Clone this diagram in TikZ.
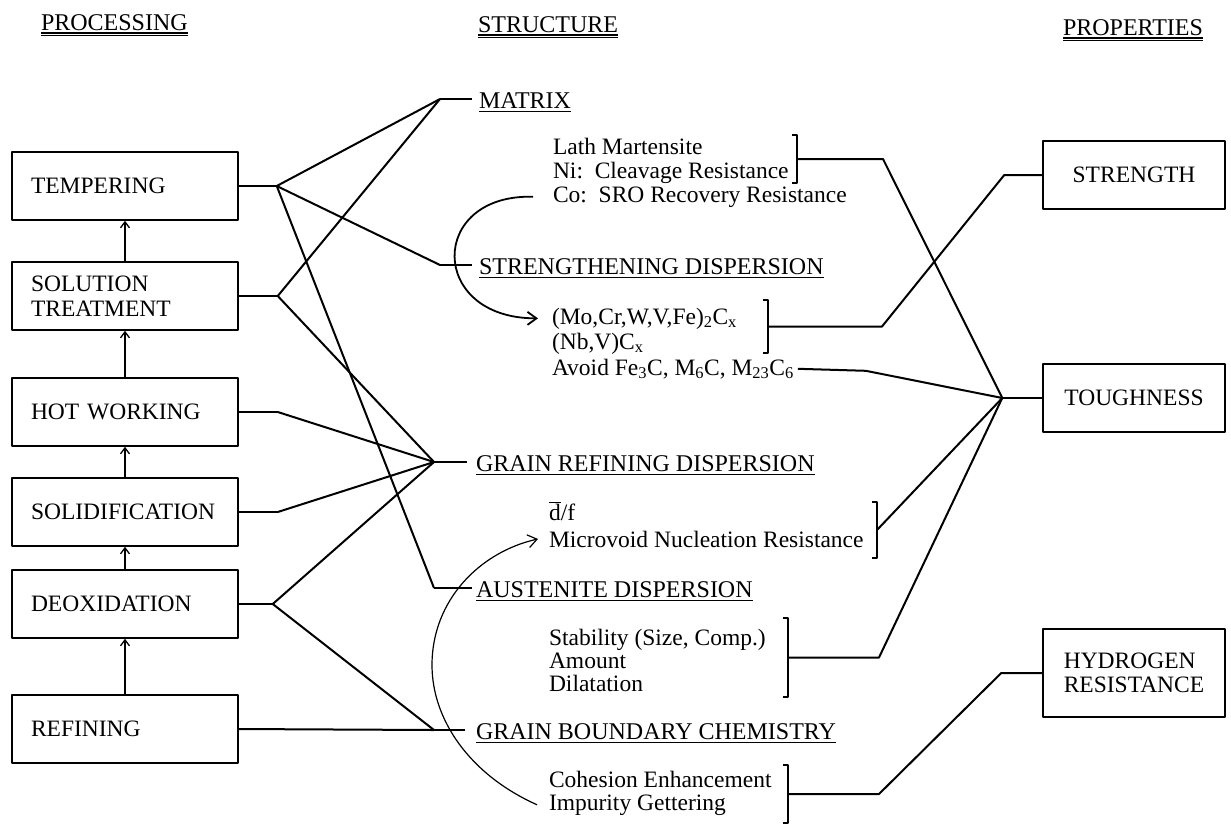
\documentclass[tikz,border=0pt]{standalone}
\usepackage{fontspec}
\setmainfont{Liberation Serif}
\usetikzlibrary{arrows.meta}

\newcommand{\undl}[1]{\vtop{\hbox{#1}\kern2.5pt\hrule height 1.5pt}}
\newcommand{\undlundl}[1]{\vtop{\hbox{#1}\kern2pt\hrule height 1.3pt\kern1.2pt\hrule height 1.3pt}}
% bracket: name, x, top, bottom
\newcommand{\brk}[4]{%
  \draw[brkline] (#2-5,#3) -- (#2,#3) -- (#2,#4) -- (#2-5,#4);
  \coordinate (#1) at (#2,{(#3+#4)/2});}

\begin{document}
\begin{tikzpicture}[x=1pt, y=-1pt, line width=2pt, line join=round,
    txt/.style={inner sep=0pt, anchor=base west, font=\fontsize{23.5}{24}\selectfont},
    head/.style={inner sep=0pt, anchor=west, text height=18pt, text depth=0pt, font=\fontsize{24}{24}\selectfont},
    box/.style={draw, line width=1.5pt, minimum height=68pt, font=\fontsize{23.5}{24.5}\selectfont},
    procbox/.style={box, text width=188pt, inner xsep=19pt, align=left},
    propbox/.style={box, minimum width=182pt},
    upar/.style={line width=1.3pt, -{Straight Barb[length=6pt,width=9pt]}},
    brkline/.style={line width=1.5pt},
    curvar/.style={-{Straight Barb[length=9pt,width=13pt]}}]
    \path[fill=white, use as bounding box] (0,0) rectangle (1231,823);

    % Nodes
    \node[head] (hproc) at (40,21) {\undlundl{PROCESSING}};
    \node[head] (hstruc) at (477,23) {\undlundl{STRUCTURE}};
    \node[head] (hprop) at (1062,26) {\undlundl{PROPERTIES}};

    \node[procbox] (tempering) at (125,186) {TEMPERING};
    \node[procbox] (solution) at (125,296) {SOLUTION\\TREATMENT};
    \node[procbox] (hotworking) at (125,412) {HOT WORKING};
    \node[procbox] (solidification) at (125,512) {SOLIDIFICATION};
    \node[procbox] (deoxidation) at (125,604) {DEOXIDATION};
    \node[procbox] (refining) at (125,729) {REFINING};

    \node[propbox] (strength) at (1134,175) {STRENGTH};
    \node[propbox] (toughness) at (1134,398) {TOUGHNESS};
    \node[propbox, minimum height=88pt, align=left] (hydrogen) at (1134,673) {HYDROGEN\\RESISTANCE};

    \node[head] (hmat) at (478,99) {\undl{MATRIX}};
    \node[head] (hstr) at (478,265) {\undl{STRENGTHENING DISPERSION}};
    \node[head] (hgr) at (475,462) {\undl{GRAIN REFINING DISPERSION}};
    \node[head] (haus) at (475,588) {\undl{AUSTENITE DISPERSION}};
    \node[head] (hgb) at (475,730) {\undl{GRAIN BOUNDARY CHEMISTRY}};

    \node[txt] (lath) at (552,154) {Lath Martensite};
    \node[txt] (ni) at (552,178) {Ni:\ \ Cleavage Resistance};
    \node[txt] (co) at (552,202) {Co:\ \ SRO Recovery Resistance};
    \node[txt] (mo) at (551,324) {(Mo,Cr,W,V,Fe)\textsubscript{2}C\textsubscript{x}};
    \node[txt] (nb) at (551,349) {(Nb,V)C\textsubscript{x}};
    \node[txt] (avoid) at (551,375) {Avoid Fe\textsubscript{3}C, M\textsubscript{6}C, M\textsubscript{23}C\textsubscript{6}};
    \node[txt] (df) at (548,520) {$\overline{\mbox{d}}$/f};
    \node[txt] (micro) at (548,547) {Microvoid Nucleation Resistance};
    \node[txt] (stab) at (548,645) {Stability (Size, Comp.)};
    \node[txt] (amount) at (548,668) {Amount};
    \node[txt] (dilat) at (548,691) {Dilatation};
    \node[txt] (cohesion) at (548,787) {Cohesion Enhancement};
    \node[txt] (impurity) at (548,810) {Impurity Gettering};

    % Brackets
    \brk{bmat}{797}{135}{183}
    \brk{bstr}{768}{300}{353}
    \brk{bmicro}{877}{502}{558}
    \brk{baus}{788}{618}{697}
    \brk{bgb}{788}{765}{823}

    % Junctions
    \coordinate (ftemp) at ([xshift=38pt]tempering.east);
    \coordinate (fsol) at ([xshift=39pt]solution.east);
    \coordinate (fhot) at ([xshift=39pt]hotworking.east);
    \coordinate (fsolid) at ([xshift=39pt]solidification.east);
    \coordinate (fdeox) at ([xshift=34pt]deoxidation.east);
    \coordinate (jmat) at ([xshift=-38pt]hmat.west);
    \coordinate (jstr) at ([xshift=-38pt]hstr.west);
    \coordinate (jgr) at ([xshift=-41pt]hgr.west);
    \coordinate (jaus) at ([xshift=-41pt]haus.west);
    \coordinate (jgb) at ([xshift=-41pt]hgb.west);
    \coordinate (jtough) at ([xshift=-40pt]toughness.west);
    \coordinate (kstr) at ([xshift=-38pt]strength.west);
    \coordinate (khyd) at ([xshift=-41pt]hydrogen.west);

    % Lines
    \draw[upar] (solution.north) -- (tempering.south);
    \draw[upar] (hotworking.north) -- (solution.south);
    \draw[upar] (solidification.north) -- (hotworking.south);
    \draw[upar] (deoxidation.north) -- (solidification.south);
    \draw[upar] (refining.north) -- (deoxidation.south);

    \draw (tempering.east) -- (ftemp);
    \draw (solution.east) -- (fsol);
    \draw (hotworking.east) -- (fhot);
    \draw (solidification.east) -- (fsolid);
    \draw (deoxidation.east) -- (fdeox);
    \draw (refining.east) -- (jgb);

    \draw (ftemp) -- (jmat);
    \draw (ftemp) -- (jstr);
    \draw (ftemp) -- (jaus);
    \draw (fsol) -- (jmat);
    \draw (fsol) -- (jgr);
    \draw (fhot) -- (jgr);
    \draw (fsolid) -- (jgr);
    \draw (fdeox) -- (jgr);
    \draw (fdeox) -- (jgb);

    \draw (jmat) -- ([xshift=-6pt]hmat.west);
    \draw (jstr) -- ([xshift=-6pt]hstr.west);
    \draw (jgr) -- ([xshift=-8pt]hgr.west);
    \draw (jaus) -- ([xshift=-3pt]haus.west);
    \draw (jgb) -- ([xshift=-10pt]hgb.west);

    \draw (bmat) -- ++(86,0) -- (jtough);
    \draw (bstr) -- ++(114,0) -- (kstr) -- (strength.west);
    \draw ([xshift=3pt]avoid.east) -- ++(68,2) -- (jtough);
    \draw (bmicro) -- (jtough);
    \draw (baus) -- ++(91,0) -- (jtough);
    \draw (jtough) -- (toughness.west);
    \draw (bgb) -- ++(91,0) -- (khyd) -- (hydrogen.west);

    \draw[curvar, line width=1.8pt] ([xshift=-19pt]co.west) .. controls +(-105,-3) and +(-110,0) .. ([xshift=-13pt]mo.west);
    \draw[curvar, line width=1.2pt] ([xshift=-11pt]impurity.west) .. controls +(-67,-30) and +(0,55) .. (432,665) .. controls +(0,-65) and +(-58,13) .. ([xshift=-10pt]micro.west);
  \end{tikzpicture}
\end{document}
